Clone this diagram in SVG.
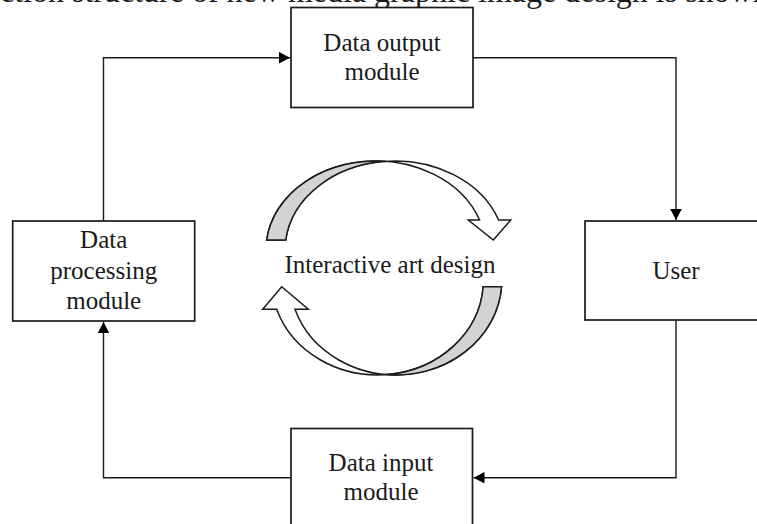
<svg xmlns="http://www.w3.org/2000/svg" width="757" height="524" viewBox="0 0 757 524">
  <style>
    .box { fill: #ffffff; stroke: #1a1a1a; stroke-width: 1.7; }
    .lbl { font-family: "Liberation Serif", "Times New Roman", serif; font-size: 25px; fill: #1a1a1a; text-anchor: middle; }
    .cap { font-family: "Liberation Serif", "Times New Roman", serif; font-size: 32px; fill: #1a1a1a; }
    .conn { fill: none; stroke: #1a1a1a; stroke-width: 1.4; }
    .ribbon { stroke: #1a1a1a; stroke-width: 1.5; stroke-linejoin: miter; }
  </style>
  <defs>
    <marker id="arrow" markerUnits="userSpaceOnUse" markerWidth="12" markerHeight="12" refX="11" refY="5.75" orient="auto">
      <path d="M0,0 L11,5.75 L0,11.5 Z" fill="#000000"/>
    </marker>
  </defs>
  <rect width="757" height="524" fill="#ffffff"/>

  <text class="cap" x="0" y="1.5">ction structure of new media graphic image design is shown</text>

  <g id="connectors">
    <path class="conn" d="M103.5,221 V57.7 H290" marker-end="url(#arrow)"/>
    <path class="conn" d="M473,57.7 H676 V220" marker-end="url(#arrow)"/>
    <path class="conn" d="M676,320 V477.7 H473.5" marker-end="url(#arrow)"/>
    <path class="conn" d="M291,477.7 H103.5 V322" marker-end="url(#arrow)"/>
  </g>

  <g id="data-output-module">
    <rect class="box" x="291" y="7.5" width="182" height="100"/>
    <text class="lbl" x="382" y="51">Data output</text>
    <text class="lbl" x="382" y="80">module</text>
  </g>

  <g id="data-processing-module">
    <rect class="box" x="12.7" y="221" width="182" height="100"/>
    <text class="lbl" x="103.7" y="248">Data</text>
    <text class="lbl" x="103.7" y="278.5">processing</text>
    <text class="lbl" x="103.7" y="309">module</text>
  </g>

  <g id="user">
    <rect class="box" x="585" y="221" width="182" height="99"/>
    <text class="lbl" x="676" y="279">User</text>
  </g>

  <g id="data-input-module">
    <rect class="box" x="291" y="428.5" width="181.5" height="110"/>
    <text class="lbl" x="381" y="471">Data input</text>
    <text class="lbl" x="381" y="500">module</text>
  </g>

  <g id="interactive-art-design">
    <path class="ribbon" fill="#ffffff" d="M266.7,240 A110,89 0 0 1 479.6,220 L468.3,220 L493.3,240 L510.7,220 L498.6,220 A110,89 0 0 0 285.7,240 Z"/>
    <path class="ribbon" fill="#d3d3d3" d="M266.7,240 A110,89 0 0 1 385.5,161.3 A110,89 0 0 0 285.7,240 Z"/>
    <path class="ribbon" fill="#ffffff" d="M483.2,286.7 A106,95 0 0 1 276.7,309.3 L262.7,309.3 L281.7,286.7 L308.3,309.3 L295,309.3 A106,95 0 0 0 501.5,286.7 Z"/>
    <path class="ribbon" fill="#d3d3d3" d="M483.2,286.7 A106,95 0 0 1 386.65,374.6 A106,95 0 0 0 501.5,286.7 Z"/>
    <text class="lbl" x="390" y="273">Interactive art design</text>
  </g>
</svg>
